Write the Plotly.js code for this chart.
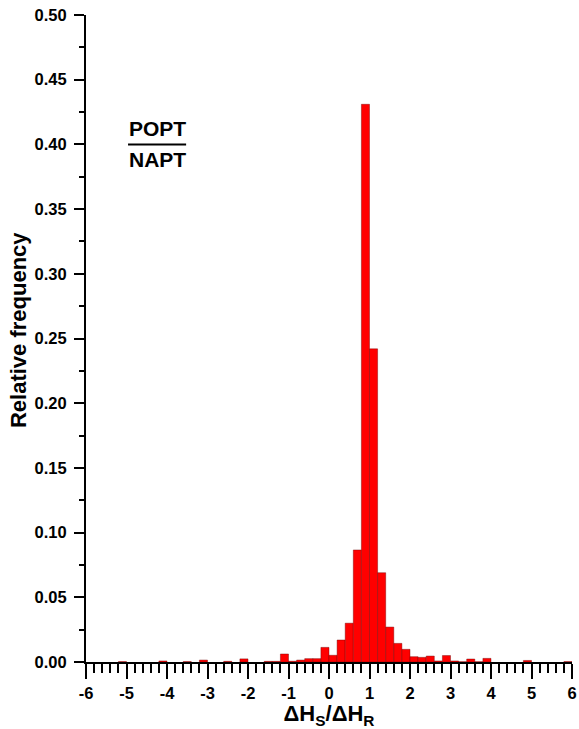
<!DOCTYPE html>
<html>
<head>
<meta charset="utf-8">
<script src="https://cdn.plot.ly/plotly-3.0.1.min.js"></script>
<style>html,body{margin:0;padding:0;background:#fff;}#chart{width:579px;height:729px;}</style>
</head>
<body>
<div id="chart"></div>
<script>
// Bin centres (bin width 0.2) of the histogram of ΔHS/ΔHR
var binCenters = [-5.1, -4.1, -3.5, -3.1, -2.5, -2.1, -1.5, -1.3, -1.1, -0.9, -0.7, -0.5, -0.3, -0.1,
                  0.1, 0.3, 0.5, 0.7, 0.9, 1.1, 1.3, 1.5, 1.7, 1.9, 2.1, 2.3, 2.5, 2.7, 2.9,
                  3.1, 3.3, 3.5, 3.7, 3.9, 4.9, 5.9];
var relFreq = [0.0003, 0.0008, 0.0003, 0.0015, 0.0005, 0.0024, 0.0005, 0.0005, 0.0062, 0.0006, 0.0015, 0.0026, 0.0026, 0.0113,
               0.0052, 0.017, 0.030, 0.0866, 0.431, 0.242, 0.069, 0.027, 0.0144, 0.0098, 0.0041, 0.0036, 0.0046, 0.0008, 0.005,
               0.0008, 0.0002, 0.0023, 0.0002, 0.0028, 0.0012, 0.0003];
var binWidth = 0.2;
var xTickVals = [-6, -5, -4, -3, -2, -1, 0, 1, 2, 3, 4, 5, 6];
var xTickText = ['-6', '-5', '-4', '-3', '-2', '-1', '0', '1', '2', '3', '4', '5', '6'];

var FONT = 'Liberation Sans, Arial, sans-serif';

var trace = {
  type: 'bar',
  x: binCenters,
  y: relFreq,
  width: binWidth,
  marker: {color: '#ff0000', line: {color: 'rgba(110,0,0,0.7)', width: 0.6}},
  hoverinfo: 'x+y'
};

var layout = {
  width: 579,
  height: 729,
  margin: {l: 86, r: 7, t: 15, b: 67},
  paper_bgcolor: '#ffffff',
  plot_bgcolor: '#ffffff',
  showlegend: false,
  bargap: 0,
  font: {family: FONT, color: '#000'},
  xaxis: {
    range: [-6, 6],
    tickmode: 'array',
    tickvals: xTickVals,
    ticktext: xTickText,
    ticks: 'outside',
    ticklen: 15,
    tickwidth: 2,
    tickcolor: '#000',
    minor: {dtick: 0.2, ticks: 'outside', ticklen: 9, tickwidth: 2, tickcolor: '#000', showgrid: false},
    showline: true,
    linewidth: 2,
    linecolor: '#000',
    showgrid: false,
    zeroline: false,
    tickfont: {family: FONT, size: 16.5, weight: 'bold', color: '#000'},
    title: {text: 'ΔH<sub>S</sub>/ΔH<sub>R</sub>', font: {family: FONT, size: 22, weight: 'bold', color: '#000'}, standoff: 4}
  },
  yaxis: {
    range: [0, 0.5],
    dtick: 0.05,
    tick0: 0,
    tickformat: '.2f',
    ticks: 'outside',
    ticklen: 10,
    tickwidth: 2,
    tickcolor: '#000',
    ticklabelstandoff: 4,
    minor: {dtick: 0.025, ticks: 'outside', ticklen: 5, tickwidth: 2, tickcolor: '#000', showgrid: false},
    showline: true,
    linewidth: 2,
    linecolor: '#000',
    showgrid: false,
    zeroline: false,
    tickfont: {family: FONT, size: 16.5, weight: 'bold', color: '#000'}
  },
  annotations: [
    {xref: 'paper', yref: 'paper', x: -0.14, y: 0.513, xanchor: 'center', yanchor: 'middle', textangle: -90,
     text: '<b>Relative frequency</b>', showarrow: false, font: {family: FONT, size: 22, color: '#000'}},
    {xref: 'paper', yref: 'paper', x: 0.0845, y: 0.803, xanchor: 'left', yanchor: 'bottom', text: '<b>POPT</b>', showarrow: false,
     font: {family: FONT, size: 21, color: '#000'}},
    {xref: 'paper', yref: 'paper', x: 0.0845, y: 0.797, xanchor: 'left', yanchor: 'top', text: '<b>NAPT</b>', showarrow: false,
     font: {family: FONT, size: 21, color: '#000'}}
  ],
  shapes: [
    {type: 'line', xref: 'paper', yref: 'paper', x0: 0.0865, x1: 0.206, y0: 0.800, y1: 0.800, line: {color: '#000', width: 2}}
  ]
};

Plotly.newPlot('chart', [trace], layout, {displayModeBar: false, staticPlot: true});
</script>
</body>
</html>
